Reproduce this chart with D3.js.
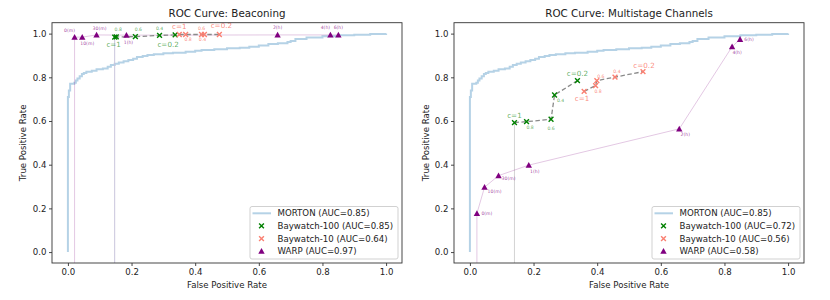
<!DOCTYPE html>
<html><head><meta charset="utf-8">
<script src="https://cdn.jsdelivr.net/npm/d3@7"></script>
<style>body{margin:0;background:#fff} text{font-family:"DejaVu Sans",sans-serif}</style>
</head><body><svg id="c" width="830" height="300"></svg>
<script>
// ---------------- data ----------------
const tickValues = [0, 0.2, 0.4, 0.6, 0.8, 1.0];
const panelTitles = ["ROC Curve: Beaconing", "ROC Curve: Multistage Channels"];
const xAxisLabel = "False Positive Rate";
const yAxisLabel = "True Positive Rate";
const seriesNames = ["MORTON", "Baywatch-100", "Baywatch-10", "WARP"];
const beaconAuc = [0.85, 0.85, 0.64, 0.97];
const multiAuc = [0.85, 0.72, 0.56, 0.58];

const mortonFpr = [0, 0, 0.003, 0.007, 0.02, 0.025, 0.03, 0.037, 0.044, 0.05, 0.058, 0.075, 0.09, 0.11, 0.125, 0.135, 0.147, 0.16, 0.175, 0.19, 0.205, 0.217, 0.235, 0.25, 0.27, 0.3, 0.33, 0.37, 0.4, 0.42, 0.46, 0.5, 0.54, 0.57, 0.6, 0.63, 0.66, 0.69, 0.7, 0.715, 0.75, 0.8, 0.85, 0.9, 0.95, 1.0];
const mortonTpr = [0, 0.71, 0.74, 0.77, 0.775, 0.785, 0.795, 0.805, 0.815, 0.82, 0.826, 0.83, 0.837, 0.84, 0.848, 0.856, 0.862, 0.868, 0.873, 0.879, 0.885, 0.893, 0.898, 0.902, 0.906, 0.91, 0.913, 0.917, 0.922, 0.925, 0.928, 0.933, 0.935, 0.94, 0.946, 0.952, 0.956, 0.962, 0.966, 0.975, 0.982, 0.988, 0.992, 0.995, 0.998, 1.0];

const cLabels = ["c=1", "0.8", "0.6", "0.4", "c=0.2"];
const warpLabels = ["0(m)", "10(m)", "30(m)", "1(h)", "2(h)", "4(h)", "6(h)"];

const beaconB100Fpr = [0.147, 0.152, 0.212, 0.288, 0.337];
const beaconB100Tpr = [0.984, 0.985, 0.986, 0.992, 0.994];
const beaconB10Fpr = [0.35, 0.37, 0.42, 0.429, 0.476];
const beaconB10Tpr = [0.996, 0.996, 0.996, 0.996, 0.996];
const beaconWarpFpr = [0.021, 0.045, 0.09, 0.184, 0.659, 0.825, 0.85];
const beaconWarpTpr = [0.984, 0.984, 0.994, 0.993, 0.994, 0.994, 0.994];

const multiB100Fpr = [0.140, 0.178, 0.255, 0.266, 0.338];
const multiB100Tpr = [0.593, 0.597, 0.608, 0.719, 0.785];
const multiB10Fpr = [0.359, 0.395, 0.399, 0.456, 0.544];
const multiB10Tpr = [0.736, 0.762, 0.785, 0.801, 0.826];
const multiWarpFpr = [0.022, 0.046, 0.09, 0.185, 0.658, 0.824, 0.849];
const multiWarpTpr = [0.177, 0.297, 0.35, 0.398, 0.564, 0.94, 0.974];

// ---------------- styles / label offsets (px) ----------------
const beaconB100Off = [[-1, 7.5], [2, -7], [3, -7], [0, -6.5], [-7, 9.5]];
const beaconB10Off = [[0, -8], [2.5, 5], [0, -6], [-2, 5], [2, -8.5]];
const beaconWarpOff = [[-5, -7], [5, 6], [3, -6], [2, 7], [0, -7], [-5, -7], [0, -7]];
const multiB100Off = [[0, -7], [3.5, 6], [0, 9], [6, 5], [0, -7]];
const multiB10Off = [[-2, 7], [2.5, 6], [4, -4.5], [2, -6], [1, -6.5]];
const multiWarpOff = [[10, 0], [10, 4], [10, 3], [6, 6], [6, 6], [5, 6], [9, 0]];

const COL = {morton: "#1f77b4", green: "#008000", red: "#fa8072", purple: "#800080", dash: "#8a8a8a"};

const zip = (a, b) => a.map((v, i) => [v, b[i]]);
const svg = d3.select("#c");

const panels = [
  {x0: 52, x1: 402, title: panelTitles[0], auc: beaconAuc,
   b100: zip(beaconB100Fpr, beaconB100Tpr), b10: zip(beaconB10Fpr, beaconB10Tpr), warp: zip(beaconWarpFpr, beaconWarpTpr),
   o100: beaconB100Off, o10: beaconB10Off, ow: beaconWarpOff, warpAnchor: "middle", ylabX: 23, vCol: "#c9c6dc"},
  {x0: 454, x1: 804, title: panelTitles[1], auc: multiAuc,
   b100: zip(multiB100Fpr, multiB100Tpr), b10: zip(multiB10Fpr, multiB10Tpr), warp: zip(multiWarpFpr, multiWarpTpr),
   o100: multiB100Off, o10: multiB10Off, ow: multiWarpOff, warpAnchor: "middle", ylabX: 426, vCol: "#d4d4d4"}
];
const yTop = 22.7, yBot = 263;

function xMark(g, x, y, color) {
  const s = 2.4;
  g.append("path").attr("d", `M${x-s},${y-s}L${x+s},${y+s}M${x-s},${y+s}L${x+s},${y-s}`)
    .attr("stroke", color).attr("stroke-width", 1.4).attr("fill", "none");
}
function triMark(g, x, y, color) {
  g.append("path").attr("d", `M${x},${y-3.2}L${x-3.2},${y+2.6}L${x+3.2},${y+2.6}Z`).attr("fill", color);
}

panels.forEach((p, pi) => {
  const x = d3.scaleLinear().domain([-0.05, 1.05]).range([p.x0, p.x1]);
  const y = d3.scaleLinear().domain([-0.05, 1.05]).range([yBot, yTop]);
  const g = svg.append("g");
  const clipId = "clip" + pi;
  svg.append("clipPath").attr("id", clipId).append("rect")
    .attr("x", p.x0).attr("y", yTop).attr("width", p.x1 - p.x0).attr("height", yBot - yTop);
  const plot = g.append("g").attr("clip-path", `url(#${clipId})`);

  // MORTON
  plot.append("path").datum(zip(mortonFpr, mortonTpr))
    .attr("d", d3.line().x(d => x(d[0])).y(d => y(d[1])).curve(d3.curveStepAfter))
    .attr("fill", "none").attr("stroke", COL.morton).attr("stroke-opacity", 0.33).attr("stroke-width", 2);

  // verticals
  plot.append("line").attr("x1", x(p.b100[0][0])).attr("x2", x(p.b100[0][0]))
    .attr("y1", y(p.b100[0][1])).attr("y2", yBot).attr("stroke", p.vCol).attr("stroke-width", 1);
  plot.append("line").attr("x1", x(p.warp[0][0])).attr("x2", x(p.warp[0][0]))
    .attr("y1", y(p.warp[0][1])).attr("y2", yBot).attr("stroke", COL.purple).attr("stroke-opacity", 0.22).attr("stroke-width", 1);

  // WARP line
  plot.append("path").datum(p.warp)
    .attr("d", d3.line().x(d => x(d[0])).y(d => y(d[1])))
    .attr("fill", "none").attr("stroke", COL.purple).attr("stroke-opacity", 0.22).attr("stroke-width", 1);

  // Baywatch dashed lines
  [p.b100, p.b10].forEach(ser => {
    plot.append("path").datum(ser)
      .attr("d", d3.line().x(d => x(d[0])).y(d => y(d[1])))
      .attr("fill", "none").attr("stroke", COL.dash).attr("stroke-width", 1.3).attr("stroke-dasharray", "4.5,2.5");
  });

  // markers
  p.b100.forEach(d => xMark(plot, x(d[0]), y(d[1]), COL.green));
  p.b10.forEach(d => xMark(plot, x(d[0]), y(d[1]), COL.red));
  p.warp.forEach(d => triMark(plot, x(d[0]), y(d[1]), COL.purple));

  // annotations
  const ann = (ser, offs, color, op) => ser.forEach((d, i) => {
    const big = cLabels[i].startsWith("c=");
    g.append("text").attr("x", x(d[0]) + offs[i][0]).attr("y", y(d[1]) + offs[i][1])
      .attr("text-anchor", "middle").attr("dominant-baseline", "central")
      .attr("font-size", big ? 7.2 : 4.6).attr("fill", color).attr("fill-opacity", op)
      .text(cLabels[i]);
  });
  ann(p.b100, p.o100, COL.green, 0.65);
  ann(p.b10, p.o10, COL.red, 0.9);
  p.warp.forEach((d, i) => {
    g.append("text").attr("x", x(d[0]) + p.ow[i][0]).attr("y", y(d[1]) + p.ow[i][1])
      .attr("text-anchor", p.warpAnchor).attr("dominant-baseline", "central")
      .attr("font-size", 4.6).attr("fill", COL.purple).attr("fill-opacity", 0.75)
      .text(warpLabels[i]);
  });

  // frame
  g.append("rect").attr("x", p.x0).attr("y", yTop).attr("width", p.x1 - p.x0).attr("height", yBot - yTop)
    .attr("fill", "none").attr("stroke", "#333").attr("stroke-width", 0.9);

  // axes
  const fmt = d3.format(".1f");
  const xa = g.append("g").attr("transform", `translate(0,${yBot})`)
    .call(d3.axisBottom(x).tickValues(tickValues).tickFormat(fmt).tickSize(3).tickPadding(2.5));
  const ya = g.append("g").attr("transform", `translate(${p.x0},0)`)
    .call(d3.axisLeft(y).tickValues(tickValues).tickFormat(fmt).tickSize(3).tickPadding(2.5));
  [xa, ya].forEach(a => {
    a.select(".domain").remove();
    a.selectAll("line").attr("stroke", "#333").attr("stroke-width", 0.9);
    a.selectAll("text").attr("font-size", 8.6).attr("fill", "#222").attr("font-family", "DejaVu Sans");
  });

  // labels
  const cx = (p.x0 + p.x1) / 2;
  g.append("text").attr("x", cx).attr("y", 16.6).attr("text-anchor", "middle")
    .attr("font-size", 10.3).attr("fill", "#222").text(p.title);
  g.append("text").attr("x", cx).attr("y", 288.2).attr("text-anchor", "middle")
    .attr("font-size", 8.6).attr("fill", "#222").text(xAxisLabel);
  g.append("text").attr("transform", `translate(${p.ylabX},${(yTop + yBot) / 2}) rotate(-90)`)
    .attr("text-anchor", "middle").attr("dominant-baseline", "central")
    .attr("font-size", 8.6).attr("fill", "#222").text(yAxisLabel);

  // legend
  const lw = 148, lh = 52.5;
  const lx = p.x1 - 4 - lw, ly = yBot - 4 - lh;
  const lg = g.append("g");
  lg.append("rect").attr("x", lx).attr("y", ly).attr("width", lw).attr("height", lh).attr("rx", 2)
    .attr("fill", "#fff").attr("fill-opacity", 0.85).attr("stroke", "#ccc").attr("stroke-width", 0.9);
  seriesNames.forEach((name, i) => {
    const ry = ly + 6.8 + i * 12.65;
    const mx = lx + 11.5;
    if (i === 0) lg.append("line").attr("x1", lx + 2.5).attr("x2", lx + 21).attr("y1", ry).attr("y2", ry)
      .attr("stroke", COL.morton).attr("stroke-opacity", 0.33).attr("stroke-width", 2);
    else if (i === 1) xMark(lg, mx, ry, COL.green);
    else if (i === 2) xMark(lg, mx, ry, COL.red);
    else triMark(lg, mx, ry, COL.purple);
    lg.append("text").attr("x", lx + 27.6).attr("y", ry).attr("dominant-baseline", "central")
      .attr("font-size", 8.6).attr("fill", "#222").text(`${name} (AUC=${p.auc[i].toFixed(2)})`);
  });
});
</script></body></html>
